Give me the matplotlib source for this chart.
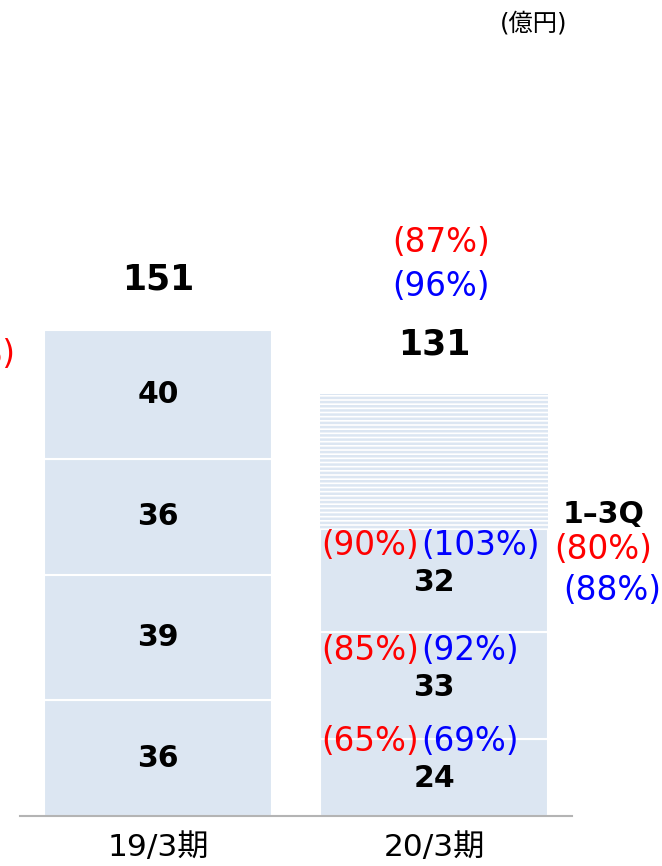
import matplotlib
matplotlib.use("Agg")
import matplotlib.pyplot as plt
import numpy as np

plt.rcParams['font.family'] = ['DejaVu Sans', 'Noto Sans CJK JP']
plt.rcParams['hatch.linewidth'] = 1.8

# data
periods = ['19/3期', '20/3期']
q_1903 = [36, 39, 36, 40]          # 1Q..4Q
q_2003 = [24, 33, 32]              # 1Q..3Q actual
total_1903 = 151
total_2003 = 131                   # full-year forecast
pct_red = ['(65%)', '(85%)', '(90%)']
pct_blue = ['(69%)', '(92%)', '(103%)']
q13_red = '(80%)'
q13_blue = '(88%)'
full_red = '(87%)'
full_blue = '(96%)'

bar_color = '#dce6f2'
bw = 0.826
fs_pct = 23.5
fs_seg = 21.5
fs_tot = 25

fig = plt.figure(figsize=(6.62, 8.66), dpi=100)
ax = fig.add_axes([20 / 662, 50 / 866, 552 / 662, 816 / 866])
ax.set_xlim(-0.5, 1.5)
ax.set_ylim(0, 816 / 3.22)

# 19/3 stacked quarters
bottom = 0
for v in q_1903:
    ax.bar(0, v, bw, bottom=bottom, color=bar_color, edgecolor='white', linewidth=1.5)
    ax.text(0, bottom + v / 2, str(v), ha='center', va='center',
            fontsize=fs_seg, fontweight='bold')
    bottom += v
ax.text(0, total_1903 + 15.5, str(total_1903), ha='center', va='center',
        fontsize=fs_tot, fontweight='bold')

# 20/3 stacked quarters
bottom = 0
for v, r, b in zip(q_2003, pct_red, pct_blue):
    ax.bar(1, v, bw, bottom=bottom, color=bar_color, edgecolor='white', linewidth=1.5)
    c = bottom + v / 2
    ax.text(1, c - 0.5, str(v), ha='center', va='center', fontsize=fs_seg, fontweight='bold')
    ax.text(0.945, c + 11, r, ha='right', va='center', fontsize=fs_pct, color='red')
    ax.text(0.955, c + 11, b, ha='left', va='center', fontsize=fs_pct, color='blue')
    bottom += v

# remaining forecast (striped)
ax.bar(1, total_2003 - bottom, bw, bottom=bottom, color='white',
       edgecolor=bar_color, linewidth=0, hatch='----')
ax.text(1, total_2003 + 15.5, str(total_2003), ha='center', va='center',
        fontsize=fs_tot, fontweight='bold')
ax.text(1.025, total_2003 + 47, full_red, ha='center', va='center', fontsize=fs_pct, color='red')
ax.text(1.025, total_2003 + 33.5, full_blue, ha='center', va='center', fontsize=fs_pct, color='blue')

# 1-3Q side labels
ax.text(1.616, 93.5, '1–3Q', ha='center', va='center', fontsize=fs_seg,
        fontweight='bold', clip_on=False)
ax.text(1.612, 82.9, q13_red, ha='center', va='center', fontsize=fs_pct,
        color='red', clip_on=False)
ax.text(1.645, 69.9, q13_blue, ha='center', va='center', fontsize=fs_pct,
        color='blue', clip_on=False)

# label cut off at the left edge, as in the source slide
ax.text(-0.517, 143.2, '(88%)', ha='right', va='center', fontsize=fs_pct,
        color='red', clip_on=False)

fig.text(534 / 662, 1 - 23 / 866, '(億円)', ha='center', va='center', fontsize=17.5)

for s in ['top', 'right', 'left']:
    ax.spines[s].set_visible(False)
ax.spines['bottom'].set_color('#b4b4b4')
ax.spines['bottom'].set_linewidth(1.5)
ax.set_yticks([])
ax.set_xticks([0, 1])
ax.set_xticklabels(periods, fontsize=22.5)
ax.tick_params(axis='x', length=0, pad=12)

plt.savefig('out.png', dpi=100)
